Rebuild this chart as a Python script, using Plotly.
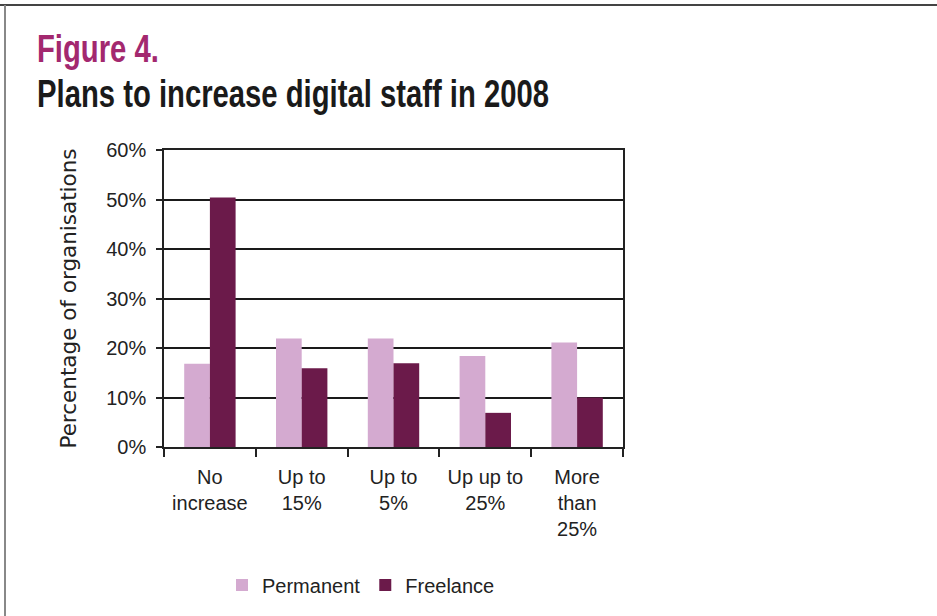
import plotly.graph_objects as go

# Survey categories and shares of organisations (%)
categories = ["No<br>increase", "Up to<br>15%", "Up to<br>5%", "Up up to<br>25%", "More<br>than<br>25%"]
permanent = [16.8, 21.9, 21.9, 18.4, 21.1]
freelance = [50.4, 15.9, 16.9, 6.9, 10.0]
y_ticks = [0, 10, 20, 30, 40, 50, 60]
y_tick_labels = [f"{v}%" for v in y_ticks]

W, H = 937, 616
L, R, T, B = 164, 314, 150, 169
PW, PH = W - L - R, H - T - B

def px_x(x):
    return (x - L) / PW

def px_y(y):
    return (H - B - y) / PH

fig = go.Figure()
fig.add_trace(go.Bar(x=categories, y=permanent, name="Permanent",
                     marker=dict(color="#d4aad0", line=dict(width=0))))
fig.add_trace(go.Bar(x=categories, y=freelance, name="Freelance",
                     marker=dict(color="#6b1a4a", line=dict(width=0))))

sans = "Liberation Sans, Arial, sans-serif"
heading = "Liberation Sans, Arial, sans-serif"

fig.update_layout(
    width=W, height=H,
    margin=dict(l=L, r=R, t=T, b=B, pad=0),
    paper_bgcolor="white", plot_bgcolor="white",
    barmode="group", bargap=0.44, bargroupgap=0,
    font=dict(family=sans, size=20, color="#222"),
    showlegend=True,
    legend=dict(orientation="h", x=px_x(222), y=px_y(585), xanchor="left", yanchor="middle",
                font=dict(family=sans, size=20, color="#222"), itemwidth=30,
                bgcolor="rgba(0,0,0,0)"),
    xaxis=dict(type="category", tickson="boundaries", ticks="outside", ticklen=8,
               tickcolor="#222", tickwidth=1.5, showline=True, linecolor="#222", linewidth=1.5,
               mirror=True, showgrid=False, ticklabelstandoff=11,
               tickfont=dict(family=sans, size=20, color="#222")),
    yaxis=dict(range=[0, 60], tickvals=y_ticks, ticktext=y_tick_labels, ticks="outside",
               ticklen=6, tickcolor="#222", tickwidth=1.5, showline=True, linecolor="#222",
               linewidth=1.5, mirror=True, showgrid=True, gridcolor="#1a1a1a", gridwidth=1.8,
               zeroline=False, ticklabelstandoff=6,
               tickfont=dict(family=sans, size=20, color="#222"),
               title=dict(text="Percentage of organisations", standoff=24,
                          font=dict(family="DejaVu Sans, Verdana, sans-serif", size=21.5, color="#222"))),
)

fig.add_annotation(text="Figure 4.", xref="paper", yref="paper", x=px_x(35), y=px_y(48),
                   xanchor="left", yanchor="middle", showarrow=False,
                   font=dict(family=heading, size=39, color="#a3286f", weight="bold"))
fig.add_annotation(text="Plans to increase digital staff in 2008", xref="paper", yref="paper",
                   x=px_x(35), y=px_y(93), xanchor="left", yanchor="middle", showarrow=False,
                   font=dict(family=heading, size=39, color="#1a1a1a", weight="bold"))

# Frame lines around the figure
fig.add_shape(type="line", xref="paper", yref="paper", x0=px_x(0), x1=px_x(W), y0=px_y(5), y1=px_y(5),
              line=dict(color="#444", width=2))
fig.add_shape(type="line", xref="paper", yref="paper", x0=px_x(5), x1=px_x(5), y0=px_y(5), y1=px_y(H),
              line=dict(color="#888", width=2))

# Condensed look for the two heading lines (horizontal squeeze anchored at the left edge)
condense_js = """
document.querySelectorAll('.annotation-text').forEach(function (t) {
  t.style.transformBox = 'fill-box';
  t.style.transformOrigin = 'left center';
  t.style.transform = 'scaleX(0.75)';
});
"""

fig.write_html("out.html", post_script=condense_js)
